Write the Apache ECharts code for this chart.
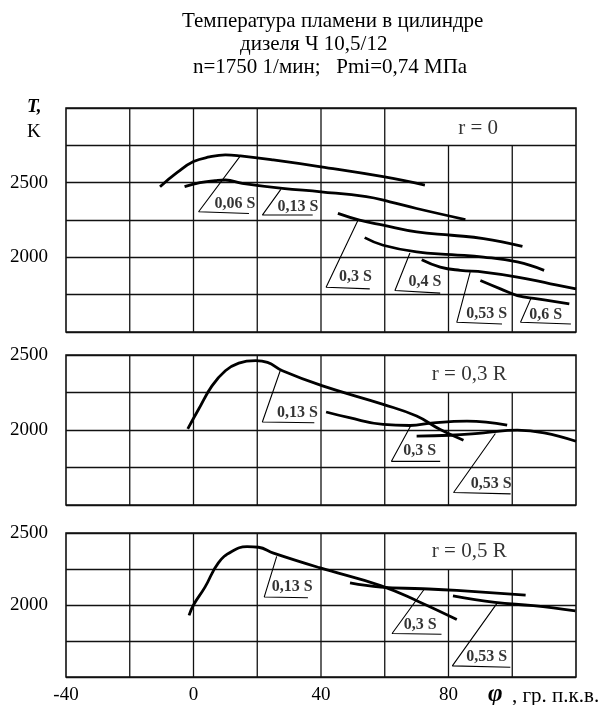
<!DOCTYPE html>
<html><head><meta charset="utf-8">
<script src="https://cdn.jsdelivr.net/npm/echarts@6/dist/echarts.min.js"></script>
<style>html,body{margin:0;padding:0;background:#fff}#c{width:601px;height:705px}</style>
</head><body><div id="c"></div>
<script>
// ---- axis ticks ----
var xMin = -40, xMax = 120, xStep = 20;
var xTickLabels = [-40, 0, 40, 80];
var yTickLabels = [2000, 2500];
var panelYMin = [1500, 1500, 1500];
var panelYMax = [3000, 2500, 2500];
var yStep = 250;
var panelNames = ['r = 0', 'r = 0,3 R', 'r = 0,5 R'];
var panelNamePos = [[89.3, 2866], [86.5, 2367], [86.5, 2370]];
var boxFromX = 60; // vertical grid lines right of this stop below the top row (label box)

// ---- panel 1: r = 0 ----
var p1_006 = [[-10.5,2473],[-5,2570],[0,2641],[5,2672],[10,2686],[14.7,2679],[25,2652],[40,2606],[59.5,2540],[72.6,2484]];
var p1_013 = [[-2.8,2473],[2,2500],[6.8,2513],[10,2518],[15.3,2496],[27.9,2462],[40,2439],[54.2,2406],[61.6,2372],[70,2327],[85.3,2253]];
var p1_03  = [[45.3,2294],[52.1,2249],[59.5,2215],[70,2170],[81,2148],[91,2126],[103.2,2074]];
var p1_04  = [[53.7,2132],[59.5,2081],[70,2036],[81,2018],[91,2002],[101.6,1969],[110,1913]];
var p1_053 = [[71.6,1984],[77.4,1935],[83.7,1913],[91,1901],[101.6,1868],[112,1823],[120,1789]];
var p1_06  = [[90,1845],[96.3,1789],[101.6,1744],[107.9,1722],[117.9,1688]];

// ---- panel 2: r = 0,3 R ----
var p2_013 = [[-1.8,2008],[1.6,2138],[5.8,2294],[10,2395],[14.2,2446],[19.5,2462],[23.2,2451],[27.9,2395],[40.5,2294],[59.5,2171],[70,2093],[77.4,2003],[84.7,1932]];
var p2_03  = [[41.6,2120],[48.9,2082],[59.5,2037],[67.9,2030],[75.3,2048],[85.8,2059],[98.4,2032]];
var p2_053 = [[70,1959],[80.5,1965],[91,1981],[101.6,1999],[110,1981],[120,1925]];

// ---- panel 3: r = 0,5 R ----
var p3_013 = [[-1.4,1928],[0,2000],[3.6,2124],[7.8,2293],[12,2372],[16.8,2405],[20.4,2401],[25.1,2360],[39.5,2259],[58.7,2135],[70.7,2023],[82.6,1899]];
var p3_03  = [[49.1,2153],[58.7,2124],[71.9,2113],[82.6,2101],[104.2,2068]];
var p3_053 = [[81.4,2063],[94.6,2018],[106.6,1995],[119.8,1959]];

// ---- callouts: [label, point on curve, foot, underline end, text position] ----
var p1_callouts = [
  ['0,06 S', [14.7,2679], [1.6,2305], [17.4,2294], [13.0,2361]],
  ['0,13 S', [27.4,2455], [21.6,2283], [37.4,2283], [32.8,2339]],
  ['0,3 S',  [51.6,2249], [41.6,1800], [55.3,1789], [50.8,1868]],
  ['0,4 S',  [67.9,2029], [63.2,1778], [77.4,1760], [72.6,1834]],
  ['0,53 S', [86.8,1901], [82.6,1565], [96.8,1554], [92,1621]],
  ['0,6 S',  [105.8,1722],[102.6,1565],[118.4,1554],[110.5,1617]]
];
var p2_callouts = [
  ['0,13 S', [27.2,2395], [21.6,2053], [37.9,2048], [32.6,2115]],
  ['0,3 S',  [68.2,2030], [62.1,1791], [77.4,1791], [71,1858]],
  ['0,53 S', [94.7,1977], [81.6,1583], [99.5,1574], [93.4,1641]]
];
var p3_callouts = [
  ['0,13 S', [26.1,2338], [22.2,2056], [35.9,2050], [31,2124]],
  ['0,3 S',  [72.5,2113], [62.3,1802], [77.8,1797], [71.1,1865]],
  ['0,53 S', [95.2,2011], [81.2,1577], [99.4,1568], [92,1640]]
];

var panelCurves = [[p1_006,p1_013,p1_03,p1_04,p1_053,p1_06],[p2_013,p2_03,p2_053],[p3_013,p3_03,p3_053]];
var panelCallouts = [p1_callouts, p2_callouts, p3_callouts];

var FONT = 'Liberation Serif';
var INK = '#111';
var grids = [
  {left:66, right:25, top:108, height:224},
  {left:66, right:25, top:355, height:150},
  {left:66, right:25, top:533, height:147}
];
grids.forEach(function(g){ g.show = true; g.borderColor = INK; g.borderWidth = 1.6; });

function xFmt(v){ return xTickLabels.indexOf(v) >= 0 ? String(v) : ''; }
function yFmt(v){ return yTickLabels.indexOf(v) >= 0 ? String(v) : ''; }

var xAxes = [], yAxes = [], series = [];
for (var i = 0; i < 3; i++) {
  xAxes.push({
    type:'value', gridIndex:i, min:xMin, max:xMax, interval:xStep,
    axisLine:{show:false}, axisTick:{show:false}, splitLine:{show:false},
    axisLabel:{show:i===2, margin:9, color:'#000', fontFamily:FONT, fontSize:19, formatter:xFmt}
  });
  yAxes.push({
    type:'value', gridIndex:i, min:panelYMin[i], max:panelYMax[i], interval:yStep,
    axisLine:{show:false}, axisTick:{show:false},
    splitLine:{show:true, lineStyle:{color:INK, width:1.3}},
    axisLabel:{margin:18, color:'#000', fontFamily:FONT, fontSize:19, formatter:yFmt}
  });
  var vData = [];
  for (var k = 1; xMin + k * xStep < xMax; k++) {
    var gx = xMin + k * xStep;
    var gTop = gx > boxFromX ? panelYMax[i] - yStep : panelYMax[i];
    vData.push([gx, panelYMin[i]], [gx, gTop], [gx, '-']);
  }
  series.push({type:'line', xAxisIndex:i, yAxisIndex:i, data:vData, symbol:'none', silent:true, z:1,
    connectNulls:false, lineStyle:{color:INK, width:1.3}});
  panelCurves[i].forEach(function(c){
    series.push({type:'line', xAxisIndex:i, yAxisIndex:i, data:c, smooth:0.45, symbol:'none', z:3,
      lineStyle:{color:'#000', width:2.8}});
  });
  panelCallouts[i].forEach(function(c){
    series.push({type:'line', xAxisIndex:i, yAxisIndex:i, data:[c[1], c[2], c[3]], symbol:'none', z:2,
      lineStyle:{color:'#000', width:1.1}});
    series.push({type:'scatter', xAxisIndex:i, yAxisIndex:i, symbolSize:1, z:4,
      itemStyle:{color:'rgba(0,0,0,0)'},
      data:[{name:c[0], value:c[4]}],
      label:{show:true, position:'inside', formatter:'{b}', color:'#000', fontFamily:FONT, fontSize:16, fontWeight:'bold'}});
  });
  series.push({type:'scatter', xAxisIndex:i, yAxisIndex:i, symbolSize:1, z:4,
    itemStyle:{color:'rgba(0,0,0,0)'},
    data:[{name:panelNames[i], value:panelNamePos[i]}],
    label:{show:true, position:'inside', formatter:'{b}', color:'#000', fontFamily:FONT, fontSize:21}});
}

var chart = echarts.init(document.getElementById('c'));
chart.setOption({
  animation:false, backgroundColor:'#fff',
  grid:grids, xAxis:xAxes, yAxis:yAxes, series:series,
  graphic:[
    {type:'text', left:182, top:11, style:{text:'Температура пламени в цилиндре', font:'21px "Liberation Serif"', fill:'#000'}},
    {type:'text', left:240, top:34, style:{text:'дизеля Ч 10,5/12', font:'21px "Liberation Serif"', fill:'#000'}},
    {type:'text', left:193, top:57, style:{text:'n=1750 1/мин;   Pmi=0,74 МПа', font:'21px "Liberation Serif"', fill:'#000'}},
    {type:'text', left:27, top:98, style:{text:'T,', font:'italic bold 19px "Liberation Serif"', fill:'#000'}},
    {type:'text', left:27, top:123, style:{text:'K', font:'19px "Liberation Serif"', fill:'#000'}},
    {type:'text', left:488, top:682, style:{text:'φ', font:'italic bold 25px "Liberation Serif"', fill:'#000'}},
    {type:'text', left:512, top:686, style:{text:', гр. п.к.в.', font:'21px "Liberation Serif"', fill:'#000'}}
  ]
});
</script>
</body></html>
